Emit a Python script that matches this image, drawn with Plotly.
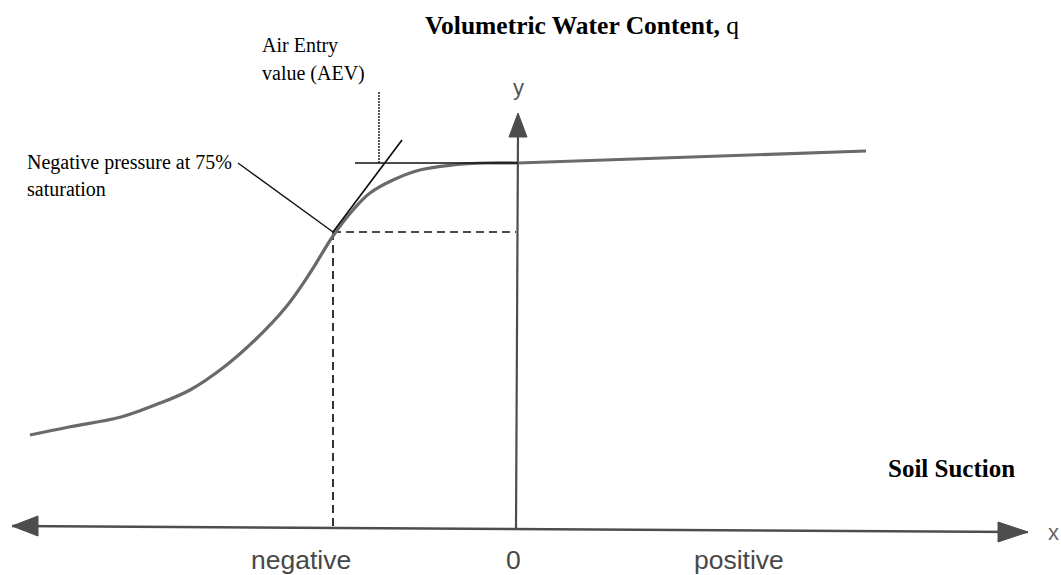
import plotly.graph_objects as go

# ---- data (soil-water characteristic sketch, arbitrary units) ----
# soil suction (x) and volumetric water content (y) along the drawn curve
suction = [-4.86, -4.47, -3.95, -3.61, -3.26, -2.92, -2.61, -2.30, -2.06,
           -1.83, -1.63, -1.46, -1.23, -0.96, -0.63, -0.29, 0.02]
water_content = [0.93, 1.01, 1.11, 1.23, 1.38, 1.61, 1.88, 2.21, 2.55,
                 2.92, 3.18, 3.35, 3.48, 3.58, 3.63, 3.65, 3.65]
# nearly flat saturated branch on the positive side
plateau_suction = [0.02, 3.50]
plateau_content = [3.65, 3.77]

# key points
psi_75 = -1.83          # suction at 75% saturation
theta_75 = 2.96         # water content at 75% saturation
theta_sat = 3.65        # saturated water content (horizontal tangent)
aev = -1.37             # air entry value (tangent intersection)
tangent_end = (-1.14, 3.88)

tick_labels = ["negative", "0", "positive"]
tick_positions = [-2.15, -0.03, 2.23]

# ---- figure ----
fig = go.Figure()
BLACK = "#111111"
AXIS = "#4d4d4d"

def seg(xs, ys, color=BLACK, width=1.6, dash="solid", shape="linear", smoothing=1):
    fig.add_trace(go.Scatter(x=xs, y=ys, mode="lines", hoverinfo="skip",
                             line=dict(color=color, width=width, dash=dash, shape=shape,
                                       smoothing=smoothing),
                             showlegend=False))

def tri(tip, direction, length, half):
    tx, ty = tip
    if direction == "left":
        xs = [tx, tx + length, tx + length, tx]
        ys = [ty, ty + half, ty - half, ty]
    elif direction == "right":
        xs = [tx, tx - length, tx - length, tx]
        ys = [ty, ty + half, ty - half, ty]
    else:  # up
        xs = [tx, tx - half, tx + half, tx]
        ys = [ty, ty - length, ty - length, ty]
    fig.add_trace(go.Scatter(x=xs, y=ys, mode="lines", fill="toself",
                             fillcolor=AXIS, line=dict(color=AXIS, width=1),
                             hoverinfo="skip", showlegend=False))

# axes (slightly tilted as in the scanned sketch)
x_left, x_right = (-5.04, 0.02), (5.12, -0.04)
seg([x_left[0], x_right[0]], [x_left[1], x_right[1]], color=AXIS, width=2.6)
tri(x_left, "left", 0.26, 0.10)
tri(x_right, "right", 0.30, 0.10)
seg([0.0, 0.02], [0.0, 3.95], color=AXIS, width=2.2)
tri((0.02, 4.15), "up", 0.24, 0.09)

# dashed guide lines to the 75% point
seg([psi_75, 0.0], [theta_75, theta_75], dash="8px,5px", width=1.7)
seg([psi_75, psi_75], [theta_75, 0.0], dash="8px,5px", width=1.7)

# curve
seg(suction, water_content, color="#6a6a6a", width=3.2, shape="spline", smoothing=1.1)
seg(plateau_suction, plateau_content, color="#6a6a6a", width=3.2)

# tangents and leader lines
seg([-1.61, 0.02], [theta_sat, theta_sat], width=1.7)
seg([psi_75, tangent_end[0]], [theta_75, tangent_end[1]], width=1.7)
seg([aev, aev], [4.36, theta_sat], dash="2px,1px", width=1.4)
seg([-2.78, psi_75], [theta_sat, theta_75], width=1.4)

serif = "Liberation Serif, Times New Roman, serif"
sans = "Liberation Sans, Arial, sans-serif"
ann = []
ann.append(dict(x=0.66, y=5.03, text="<b>Volumetric Water Content,</b> q",
                font=dict(family=serif, size=25.5, color="#000")))
ann.append(dict(x=4.35, y=0.60, text="<b>Soil Suction</b>",
                font=dict(family=serif, size=25, color="#000")))
ann.append(dict(x=-2.56, y=4.83, text="Air Entry", xanchor="left",
                font=dict(family=serif, size=20, color="#000")))
ann.append(dict(x=-2.56, y=4.55, text="value (AEV)", xanchor="left",
                font=dict(family=serif, size=20, color="#000")))
ann.append(dict(x=-4.91, y=3.66, text="Negative pressure at 75%", xanchor="left",
                font=dict(family=serif, size=20, color="#000")))
ann.append(dict(x=-4.91, y=3.39, text="saturation", xanchor="left",
                font=dict(family=serif, size=20, color="#000")))
for t, p in zip(tick_labels, tick_positions):
    ann.append(dict(x=p, y=-0.32, text=t, font=dict(family=sans, size=26.5, color="#484848")))
ann.append(dict(x=5.37, y=-0.04, text="x", font=dict(family=sans, size=22, color="#666")))
ann.append(dict(x=0.02, y=4.41, text="y", font=dict(family=sans, size=22, color="#555")))
for a in ann:
    a.setdefault("xanchor", "center")
    a.update(showarrow=False, yanchor="middle", xref="x", yref="y")

fig.update_layout(
    width=1061, height=575, autosize=False,
    margin=dict(l=0, r=0, t=0, b=0),
    paper_bgcolor="white", plot_bgcolor="white",
    xaxis=dict(range=[-5.16, 5.45], visible=False, fixedrange=True),
    yaxis=dict(range=[-0.47, 5.28], visible=False, fixedrange=True),
    annotations=ann,
    showlegend=False,
)
fig.write_html("out.html", config={"displayModeBar": False},
               post_script="document.body.style.margin='0';document.body.style.overflow='hidden';")
